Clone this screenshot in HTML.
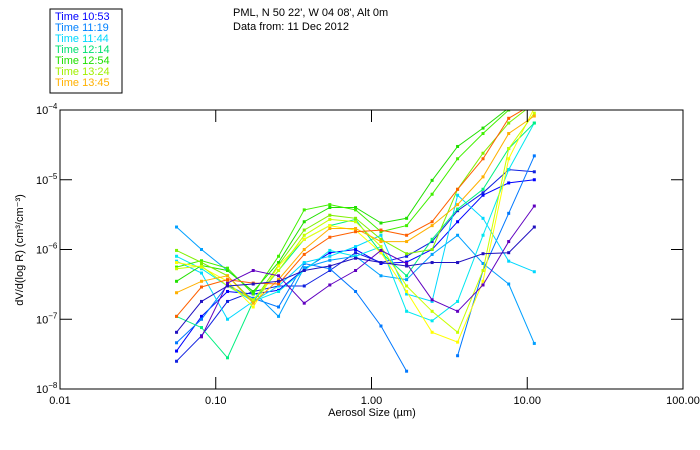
<!DOCTYPE html>
<html><head><meta charset="utf-8"><style>
body{margin:0;background:#fff;}
svg{display:block;font-family:"Liberation Sans","DejaVu Sans",sans-serif;}
</style></head><body>
<svg id="chart" width="700" height="450" viewBox="0 0 700 450">
<text x="233" y="16" font-size="11">PML, N 50 22', W 04 08', Alt 0m</text>
<text x="233" y="30" font-size="11">Data from: 11 Dec 2012</text>
<rect x="50" y="9" width="72" height="84" fill="#fff" stroke="#000"/>
<g id="legend"></g>
<defs><clipPath id="pc"><rect x="60" y="110" width="623" height="279"/></clipPath></defs>
<g id="series" clip-path="url(#pc)"></g>
<rect x="60" y="110" width="623" height="279" fill="none" stroke="#000"/>
<g id="axes"></g>
<text x="372" y="416" font-size="11" text-anchor="middle">Aerosol Size (µm)</text>
<text transform="translate(23,250) rotate(-90)" font-size="11" text-anchor="middle">dV/d(log R) (cm³/cm⁻³)</text>
</svg>
<script>
const sizes=[0.056,0.081,0.119,0.174,0.253,0.37,0.54,0.79,1.15,1.68,2.45,3.57,5.2,7.6,11.1];
const xTicks=[0.01,0.1,1,10,100];
const xTickLabels=["0.01","0.10","1.00","10.00","100.00"];
const yTicks=[-4,-5,-6,-7,-8];
const legendTimes=["Time 10:53","Time 11:19","Time 11:44","Time 12:14","Time 12:54","Time 13:24","Time 13:45"];
const legendColors=["#0000ff","#0080ff","#00d8ff","#00e070","#20e000","#a0f000","#ffb000"];
const seriesColors=["#0000ff","#1020e0","#0078ff","#00a0ff","#00d8ff","#00e8f0","#00f080","#20e000","#40f000","#80f000","#ffff00","#c8ff00","#ffb000","#ff6000","#6000c0","#2010c0"];
const s1=[3.5e-8,1.1e-7,2.5e-7,2.3e-7,2.6e-7,5.2e-7,9e-7,1e-6,6.3e-7,6.6e-7,1e-6,2.5e-6,6e-6,9e-6,1e-5];
const s2=[2.5e-8,5.8e-8,1.8e-7,2.5e-7,3e-7,3e-7,5e-7,9e-7,6.5e-7,8e-7,1.3e-6,3.6e-6,6.5e-6,1.4e-5,1.3e-5];
const s3=[4.6e-8,1e-7,3.1e-7,2e-7,1.5e-7,6.3e-7,5.3e-7,2.5e-7,8e-8,1.8e-8,null,3e-8,5e-7,3.3e-6,2.2e-5];
const s4=[2.1e-6,1e-6,5e-7,2.5e-7,1.1e-7,5.5e-7,7e-7,8e-7,4.2e-7,3.7e-7,8.5e-7,1.6e-6,6.3e-7,3.2e-7,4.5e-8];
const s5=[6.8e-7,4.6e-7,1e-7,1.8e-7,3e-7,6.5e-7,8e-7,1.1e-6,1.6e-6,2.3e-7,1.8e-7,6e-6,2.8e-6,6.8e-7,4.8e-7];
const s6=[8e-7,5.3e-7,3e-7,1.8e-7,2.5e-7,5e-7,9.7e-7,8e-7,1.1e-6,1.3e-7,9.5e-8,1.8e-7,1.6e-6,1.4e-5,6.5e-5];
const s7=[1.1e-7,7.6e-8,2.8e-8,1.8e-7,5e-7,1.4e-6,2.2e-6,2.7e-6,9e-7,4.2e-7,1.4e-6,3.8e-6,7.3e-6,2.8e-5,6.5e-5];
const s8=[3.5e-7,5.9e-7,5e-7,2.5e-7,6.5e-7,2.5e-6,4e-6,4e-6,2.4e-6,2.8e-6,9.8e-6,3e-5,5.5e-5,1.07e-4,1.5e-4];
const s9=[5.6e-7,6.9e-7,5.4e-7,2.3e-7,8e-7,3.7e-6,4.4e-6,3.7e-6,1.8e-6,2.2e-6,6.2e-6,2e-5,4.6e-5,1e-4,1.4e-4];
const s10=[9.7e-7,6.5e-7,4.2e-7,1.8e-7,6e-7,1.9e-6,3.1e-6,2.8e-6,1.4e-6,8.7e-7,1e-6,7.3e-6,2.4e-5,6.5e-5,1.25e-4];
const s11=[6.5e-7,5.6e-7,3.5e-7,1.5e-7,5.8e-7,1.4e-6,2.2e-6,1.9e-6,9e-7,2.5e-7,6.5e-8,4.7e-8,3.5e-7,2e-5,1.07e-4];
const s12=[5.3e-7,5.8e-7,3e-7,1.9e-7,5e-7,1.6e-6,2.7e-6,2.5e-6,1.1e-6,3e-7,1.3e-7,6.5e-8,5e-7,2.8e-5,9e-5];
const s13=[2.4e-7,3.5e-7,4.2e-7,1.7e-7,3.7e-7,1e-6,2e-6,2e-6,1.3e-6,1.3e-6,2.2e-6,4.4e-6,1.1e-5,4.6e-5,8.2e-5];
const s14=[1.1e-7,2.9e-7,3.7e-7,3.3e-7,3.2e-7,8.5e-7,1.5e-6,1.8e-6,1.9e-6,1.6e-6,2.5e-6,7.3e-6,2e-5,7.6e-5,1.25e-4];
const s15=[null,5.6e-8,3.3e-7,5e-7,4.2e-7,1.7e-7,3.1e-7,5e-7,9.7e-7,6.3e-7,1.9e-7,1.3e-7,3.1e-7,1.3e-6,4.2e-6];
const s16=[6.5e-8,1.8e-7,3e-7,3.2e-7,3.5e-7,5e-7,5.8e-7,7.5e-7,6.5e-7,5.8e-7,6.5e-7,6.5e-7,8.7e-7,9e-7,2.1e-6];
const allSeries=[s1,s2,s3,s4,s5,s6,s7,s8,s9,s10,s11,s12,s13,s14,s15,s16];

const NS="http://www.w3.org/2000/svg";
const X0=60,X1=683,Y0=110,Y1=389;
function xs(v){return X0+(Math.log10(v)+2)/4*(X1-X0);}
function ys(v){return Y0+(-4-Math.log10(v))/4*(Y1-Y0);}
function mk(tag,attrs,parent){const e=document.createElementNS(NS,tag);for(const k in attrs)e.setAttribute(k,attrs[k]);parent.appendChild(e);return e;}

const axes=document.getElementById('axes');
xTicks.forEach((t,i)=>{
  const x=xs(t);
  const a=mk('line',{x1:x,x2:x,y1:Y1,y2:Y1-12,stroke:'#000'},axes);
  
  
  const b=mk('line',{x1:x,x2:x,y1:Y0,y2:Y0+12,stroke:'#000'},axes);
  
  
  const l=mk('text',{x:x,y:Y1+15,'font-size':11,'text-anchor':'middle'},axes);
  l.textContent=xTickLabels[i];
  
  
});
yTicks.forEach(t=>{
  const y=ys(Math.pow(10,t));
  const a=mk('line',{x1:X0,x2:X0+12,y1:y,y2:y,stroke:'#000'},axes);
  
  
  const b=mk('line',{x1:X1,x2:X1-12,y1:y,y2:y,stroke:'#000'},axes);
  
  
  const l=mk('text',{x:36,y:y+4,'font-size':11},axes);
  l.textContent='10';
  const s=mk('tspan',{dy:-5,'font-size':8},l);
  s.textContent=String(t).replace('-','−');
  
  
});

const lg=document.getElementById('legend');
legendTimes.forEach((t,i)=>{
  const e=mk('text',{x:55,y:20+i*11,'font-size':11,fill:legendColors[i]},lg);
  e.textContent=t;
  
  
});

const sg=document.getElementById('series');
allSeries.forEach((ser,si)=>{
  const c=seriesColors[si];
  const g=mk('g',{},sg);
  
  
  let d='',pen=false;
  ser.forEach((v,i)=>{
    if(v==null){pen=false;return;}
    d+=(pen?'L':'M')+xs(sizes[i]).toFixed(1)+','+ys(v).toFixed(1);
    pen=true;
  });
  const p=mk('path',{d:d,fill:'none',stroke:c,'stroke-width':1},g);
  
  
  ser.forEach((v,i)=>{
    if(v==null)return;
    const r=mk('rect',{x:xs(sizes[i])-1.5,y:ys(v)-1.5,width:3,height:3,fill:c},g);
    
    
  });
});
</script>
</body></html>
